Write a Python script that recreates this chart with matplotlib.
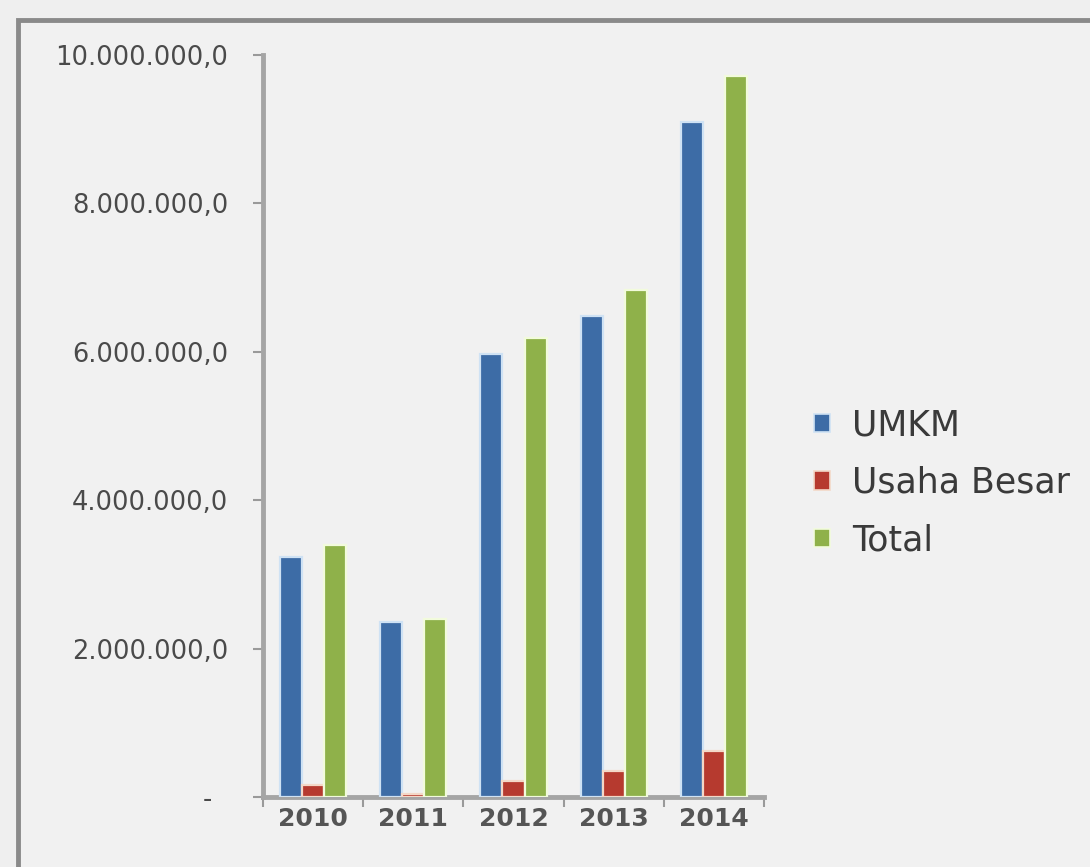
import matplotlib
matplotlib.use("Agg")
import matplotlib.pyplot as plt
from matplotlib.patches import Rectangle, Patch
from matplotlib.ticker import FixedLocator

years = ["2010", "2011", "2012", "2013", "2014"]
umkm = [3230000, 2360000, 5970000, 6480000, 9100000]
usaha_besar = [160000, 40000, 210000, 350000, 620000]
total = [3390000, 2400000, 6180000, 6830000, 9720000]
series_names = ["UMKM", "Usaha Besar", "Total"]
y_ticks = [0, 2000000, 4000000, 6000000, 8000000, 10000000]
y_tick_labels = ["-  ", "2.000.000,0", "4.000.000,0", "6.000.000,0", "8.000.000,0", "10.000.000,0"]

colors = ["#3d6ca6", "#b63a2f", "#8fb14a"]
edges = ["#cfe2f4", "#f3d8c8", "#f2fbdc"]

plt.rcParams["font.family"] = ["DejaVu Sans"]

fig = plt.figure(figsize=(10.9, 8.67), dpi=100)
fig.patch.set_facecolor("#efefef")

# outer frame, kept behind the axes
fig.patches.append(Rectangle((18 / 1090, -0.05), 1.2, (867 - 20) / 867 + 0.05,
                             transform=fig.transFigure, facecolor="#f1f1f1",
                             edgecolor="#8a8a8a", linewidth=3.5, zorder=-10))

ax = fig.add_axes([263 / 1090, 70 / 867, (764 - 263) / 1090, (797 - 55) / 867])
ax.set_facecolor("none")
ax.set_zorder(5)

x = list(range(len(years)))
w = 0.22
for i, (vals, c, e) in enumerate(zip([umkm, usaha_besar, total], colors, edges)):
    ax.bar([xi + (i - 1) * w for xi in x], vals, width=w, color=c,
           edgecolor=e, linewidth=1.6, zorder=3)

ax.set_xlim(-0.5, 4.5)
ax.set_ylim(0, 10000000)
ax.set_yticks(y_ticks)
ax.set_yticklabels(y_tick_labels, fontsize=18.5, color="#4a4a4a")
ax.set_xticks(x)
ax.set_xticklabels(years, fontsize=18, color="#555555", fontweight="bold")
ax.xaxis.set_minor_locator(FixedLocator([-0.5, 0.5, 1.5, 2.5, 3.5, 4.5]))
ax.tick_params(axis="x", which="major", length=0, pad=7)
ax.tick_params(axis="x", which="minor", length=7, width=1.5, color="#9a9a9a")
ax.tick_params(axis="y", length=7, width=1.5, color="#9a9a9a", pad=18)

for s in ["top", "right"]:
    ax.spines[s].set_visible(False)
for s in ["left", "bottom"]:
    ax.spines[s].set_color("#a5a5a5")
    ax.spines[s].set_linewidth(3.5)

handles = [Patch(facecolor=c, edgecolor=e, linewidth=1.2) for c, e in zip(colors, edges)]
leg = fig.legend(handles, series_names, loc="center left", bbox_to_anchor=(0.747, 0.443),
                 frameon=False, fontsize=25, handlelength=0.45, handleheight=0.45,
                 handletextpad=0.65, labelspacing=0.68, labelcolor="#3a3a3a",
                 borderpad=0.0, borderaxespad=0.0)
leg.set_zorder(6)

fig.savefig("out.png", dpi=100, facecolor=fig.get_facecolor())
